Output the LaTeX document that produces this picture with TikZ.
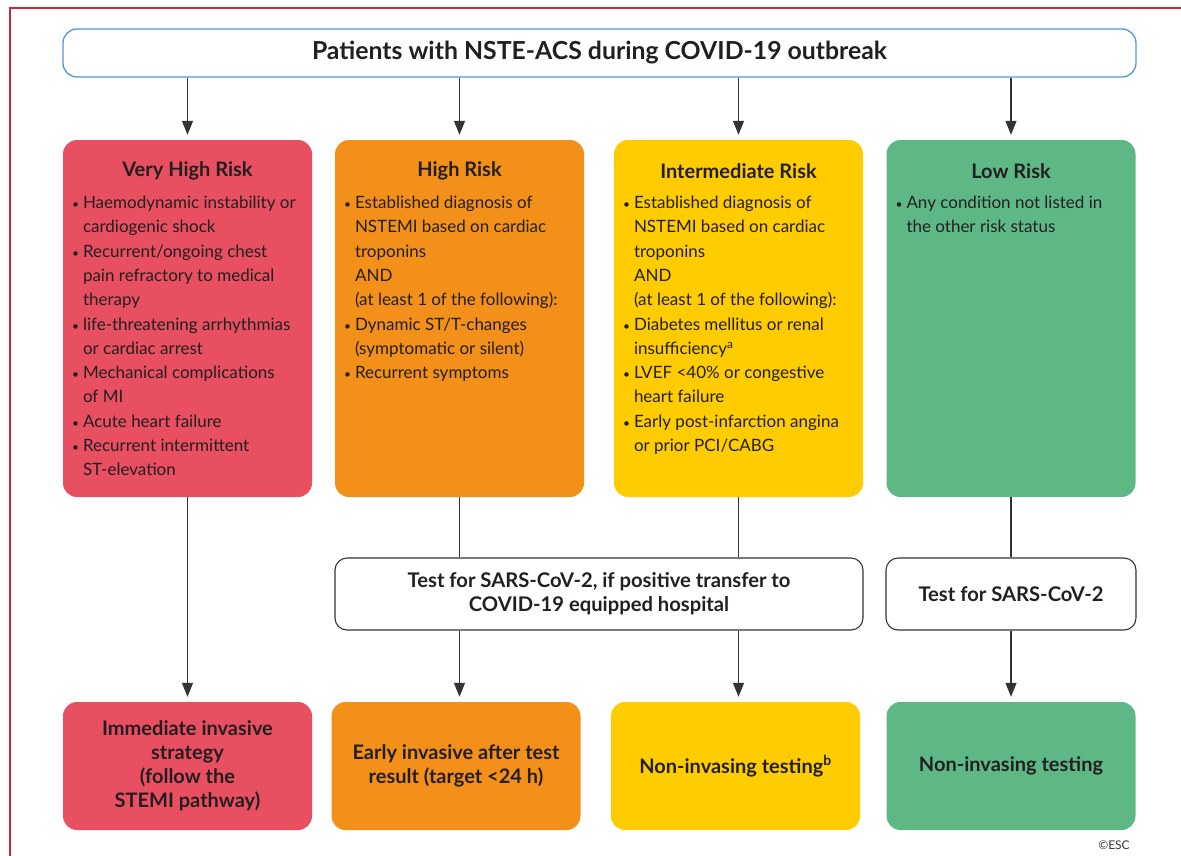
\documentclass[tikz,border=0pt]{standalone}
\usepackage{fontspec}
\setmainfont{Lato}
\usepackage{tikz}
\usetikzlibrary{arrows.meta,positioning,calc}
\definecolor{inkdark}{HTML}{231F20}
\definecolor{inkline}{HTML}{333333}
\definecolor{titleblue}{HTML}{5596CF}
\definecolor{framered}{HTML}{C8283C}
\definecolor{riskred}{HTML}{E84F60}
\definecolor{riskorange}{HTML}{F39019}
\definecolor{riskyellow}{HTML}{FFCC00}
\definecolor{riskgreen}{HTML}{5EB886}
\newcommand{\bitem}{\makebox[11pt][l]{\fontsize{12}{12}\selectfont\textbullet}}
\newcommand{\bcont}{\hspace*{11pt}}
\tikzset{title/.style={rectangle,rounded corners=14pt,draw=titleblue,line width=1.3pt,fill=white,minimum width=1073pt,minimum height=48pt,inner sep=0pt,text=inkdark,font=\bfseries\fontsize{24.8}{28}\selectfont},riskbox/.style={rectangle,rounded corners=14pt,minimum width=249pt,minimum height=357pt,inner sep=0pt},riskhead/.style={text=inkdark,inner sep=0pt,font=\bfseries\fontsize{20}{24}\selectfont},risklist/.style={anchor=north west,align=left,inner sep=0pt,text=inkdark,font=\fontsize{17}{24.3}\selectfont},testbox/.style={rectangle,rounded corners=12pt,draw=inkline,line width=1.1pt,fill=white,minimum height=72pt,inner sep=0pt,align=center,text=inkdark,font=\bfseries\fontsize{20.2}{24}\selectfont},outcome/.style={rectangle,rounded corners=14pt,minimum width=249pt,minimum height=128pt,inner sep=0pt,align=center,text=inkdark,font=\bfseries\fontsize{20}{24}\selectfont},flow/.style={-{Triangle[width=11pt,length=14pt]},line width=1.3pt,draw=inkline,shorten >=5pt},link/.style={line width=1.1pt,draw=inkline},every picture/.style={line cap=butt}}

\begin{document}
\begin{tikzpicture}[x=1pt,y=-1pt]
\useasboundingbox (0,0) rectangle (1181,855);
\draw[framered,line width=2pt] (10,870) -- (10,8) -- (1195,8);
\node[title] (top) at (599.5,53) {Patients with NSTE-ACS during COVID-19 outbreak};
\node[riskbox,fill=riskred] (r1) at (187.5,318.5) {};
\node[riskbox,fill=riskorange] (r2) at (459.5,318.5) {};
\node[riskbox,fill=riskyellow] (r3) at (738.5,318.5) {};
\node[riskbox,fill=riskgreen] (r4) at (1011,318.5) {};
\node[riskhead] (h1) at ([yshift=-31pt]r1.north) {Very High Risk};
\node[riskhead] (h2) at ([yshift=-31pt]r2.north) {High Risk};
\node[riskhead] (h3) at ([yshift=-31pt]r3.north) {Intermediate Risk};
\node[riskhead] (h4) at ([yshift=-31pt]r4.north) {Low Risk};
\node[risklist] (l1) at ([xshift=9pt,yshift=-56pt]r1.north west) {\bitem Haemodynamic instability or\\\bcont cardiogenic shock\\\bitem Recurrent/ongoing chest\\\bcont pain refractory to medical\\\bcont therapy\\\bitem life-threatening arrhythmias\\\bcont or cardiac arrest\\\bitem Mechanical complications\\\bcont of MI\\\bitem Acute heart failure\\\bitem Recurrent intermittent\\\bcont ST-elevation};
\node[risklist] (l2) at ([xshift=9pt,yshift=-56pt]r2.north west) {\bitem Established diagnosis of\\\bcont NSTEMI based on cardiac\\\bcont troponins\\\bcont AND\\\bcont (at least 1 of the following):\\\bitem Dynamic ST/T-changes\\\bcont (symptomatic or silent)\\\bitem Recurrent symptoms};
\node[risklist] (l3) at ([xshift=9pt,yshift=-56pt]r3.north west) {\bitem Established diagnosis of\\\bcont NSTEMI based on cardiac\\\bcont troponins\\\bcont AND\\\bcont (at least 1 of the following):\\\bitem Diabetes mellitus or renal\\\bcont insufficiency\textsuperscript{a}\\\bitem LVEF <40\% or congestive\\\bcont heart failure\\\bitem Early post-infarction angina\\\bcont or prior PCI/CABG};
\node[risklist] (l4) at ([xshift=9pt,yshift=-56pt]r4.north west) {\bitem Any condition not listed in\\\bcont the other risk status};
\node[testbox,minimum width=528pt] (t1) at (599,594) {Test for SARS-CoV-2, if positive transfer to\\COVID-19 equipped hospital};
\node[testbox,minimum width=250pt] (t2) at (1011,594) {Test for SARS-CoV-2};
\node[outcome,fill=riskred] (o1) at (187.5,766) {Immediate invasive\\strategy\\(follow the\\STEMI pathway)};
\node[outcome,fill=riskorange] (o2) at (456,766) {Early invasive after test\\result (target <24 h)};
\node[outcome,fill=riskyellow] (o3) at (735.5,766) {Non-invasing testing\textsuperscript{b}};
\node[outcome,fill=riskgreen] (o4) at (1011,766) {Non-invasing testing};
\foreach \r in {r1,r2,r3,r4}{\draw[flow] (top.south -| \r.north) -- (\r.north);}
\draw[flow] (r1.south) -- (o1.north);
\draw[link] (r2.south) -- (t1.north -| r2.south);
\draw[link] (r3.south) -- (t1.north -| r3.south);
\draw[link] (r4.south) -- (t2.north);
\draw[flow] (t1.south -| r2.south) -- (o2.north -| r2.south);
\draw[flow] (t1.south -| r3.south) -- (o3.north -| r3.south);
\draw[flow] (t2.south) -- (o4.north);
\node[text=inkline,inner sep=0pt,font=\fontsize{12}{13}\selectfont] (esc) at (1114,845) {\textcopyright ESC};
\end{tikzpicture}
\end{document}
